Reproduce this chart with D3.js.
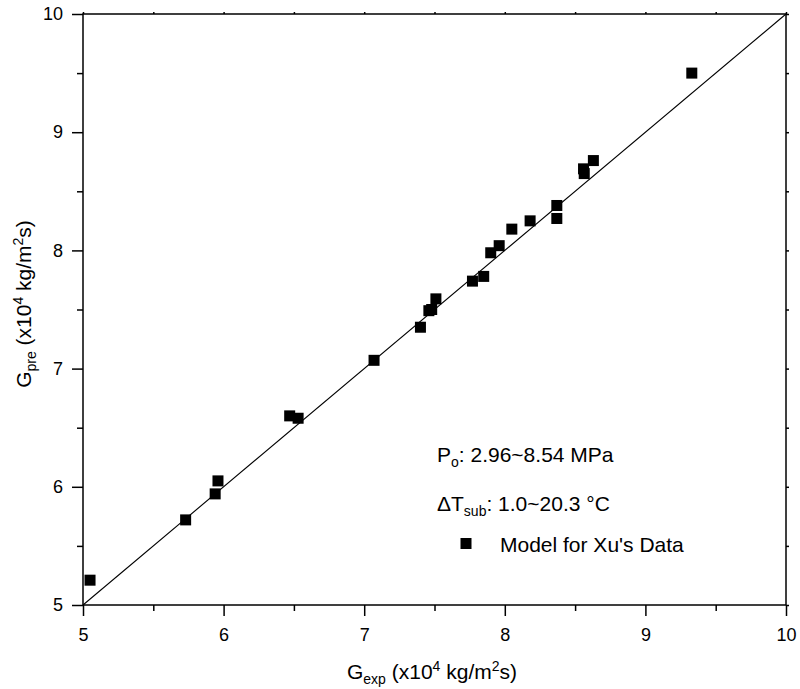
<!DOCTYPE html>
<html>
<head>
<meta charset="utf-8">
<script src="https://cdn.jsdelivr.net/npm/d3@7"></script>
<style>
  html, body { margin: 0; padding: 0; background: #fff; }
  svg { display: block; font-family: Arial, "Liberation Sans", Helvetica, sans-serif; }
</style>
</head>
<body>
<svg id="chart" width="800" height="689"></svg>
<script>
// Measured mass flux vs. predicted mass flux (x10^4 kg/m^2 s)
const gExp = [5.05, 5.73, 5.94, 5.96, 6.47, 6.53, 7.07, 7.40, 7.46, 7.48, 7.51, 7.77, 7.85, 7.90, 7.96, 8.05, 8.18, 8.37, 8.37, 8.56, 8.565, 8.63, 9.33];
const gPre = [5.21, 5.72, 5.94, 6.05, 6.60, 6.58, 7.07, 7.35, 7.49, 7.50, 7.59, 7.74, 7.78, 7.98, 8.04, 8.18, 8.25, 8.38, 8.27, 8.69, 8.65, 8.76, 9.50];
const majorTicks = [5, 6, 7, 8, 9, 10];
const minorTicks = [5.5, 6.5, 7.5, 8.5, 9.5];
const diagonal = [5, 10];

const svg = d3.select("#chart");
const plotL = 83, plotR = 786, plotT = 14, plotB = 605;

const x = d3.scaleLinear().domain([5, 10]).range([plotL, plotR]);
const y = d3.scaleLinear().domain([5, 10]).range([plotB, plotT]);

const points = gExp.map((v, i) => ({ gx: v, gy: gPre[i] }));

// 1:1 reference line
svg.append("line")
  .attr("x1", x(diagonal[0])).attr("y1", y(diagonal[0]))
  .attr("x2", x(diagonal[1])).attr("y2", y(diagonal[1]))
  .attr("stroke", "#000").attr("stroke-width", 1.1);

// Data markers
const sq = 11;
svg.append("g").selectAll("rect").data(points).join("rect")
  .attr("x", d => x(d.gx) - sq / 2)
  .attr("y", d => y(d.gy) - sq / 2)
  .attr("width", sq).attr("height", sq)
  .attr("fill", "#000");

// Frame
svg.append("rect")
  .attr("x", plotL).attr("y", plotT)
  .attr("width", plotR - plotL).attr("height", plotB - plotT)
  .attr("fill", "none").attr("stroke", "#000").attr("stroke-width", 1.5);

const labelFont = "Arial, 'Liberation Sans', sans-serif";

// Bottom axis
const xAxis = d3.axisBottom(x).tickValues(majorTicks).tickSize(11).tickPadding(12).tickFormat(d3.format("d"));
const gx = svg.append("g").attr("transform", `translate(0,${plotB})`).call(xAxis);
gx.select(".domain").remove();
gx.selectAll(".tick line").attr("stroke-width", 1.5);
gx.selectAll(".tick text").attr("font-size", 18).attr("fill", "#000").attr("font-family", labelFont);
svg.append("g").attr("transform", `translate(0,${plotB})`)
  .call(d3.axisBottom(x).tickValues(minorTicks).tickSize(6).tickFormat(""))
  .call(g => g.select(".domain").remove())
  .selectAll(".tick line").attr("stroke-width", 1.5);

// Left axis
const yAxis = d3.axisLeft(y).tickValues(majorTicks).tickSize(11).tickPadding(9).tickFormat(d3.format("d"));
const gy = svg.append("g").attr("transform", `translate(${plotL},0)`).call(yAxis);
gy.select(".domain").remove();
gy.selectAll(".tick line").attr("stroke-width", 1.5);
gy.selectAll(".tick text").attr("font-size", 18).attr("fill", "#000").attr("font-family", labelFont);
svg.append("g").attr("transform", `translate(${plotL},0)`)
  .call(d3.axisLeft(y).tickValues(minorTicks).tickSize(6).tickFormat(""))
  .call(g => g.select(".domain").remove())
  .selectAll(".tick line").attr("stroke-width", 1.5);

// Top and right: small ticks, no labels
const allTicks = majorTicks.concat(minorTicks);
svg.append("g").attr("transform", `translate(0,${plotT})`)
  .call(d3.axisTop(x).tickValues(allTicks).tickSize(2).tickFormat(""))
  .call(g => g.select(".domain").remove())
  .selectAll(".tick line").attr("stroke-width", 1.5);
svg.append("g").attr("transform", `translate(${plotR},0)`)
  .call(d3.axisRight(y).tickValues(allTicks).tickSize(3).tickFormat(""))
  .call(g => g.select(".domain").remove())
  .selectAll(".tick line").attr("stroke-width", 1.5);

// Axis titles
function unitTitle(sel, sub) {
  sel.append("tspan").text("G");
  sel.append("tspan").attr("font-size", 14).attr("dy", 5).text(sub);
  sel.append("tspan").attr("dy", -5).text(" (x10");
  sel.append("tspan").attr("font-size", 14).attr("dy", -8).text("4");
  sel.append("tspan").attr("dy", 8).text(" kg/m");
  sel.append("tspan").attr("font-size", 14).attr("dy", -8).text("2");
  sel.append("tspan").attr("dy", 8).text("s)");
}
const xt = svg.append("text")
  .attr("x", 432).attr("y", 679)
  .attr("text-anchor", "middle").attr("font-size", 21).attr("fill", "#000");
unitTitle(xt, "exp");

const yt = svg.append("text")
  .attr("transform", "translate(31,304) rotate(-90)")
  .attr("text-anchor", "middle").attr("font-size", 21).attr("fill", "#000");
unitTitle(yt, "pre");

// Annotations
const a1 = svg.append("text").attr("x", 437).attr("y", 462).attr("font-size", 21).attr("fill", "#000");
a1.append("tspan").text("P");
a1.append("tspan").attr("font-size", 14).attr("dy", 5).text("o");
a1.append("tspan").attr("dy", -5).text(": 2.96~8.54 MPa");

const a2 = svg.append("text").attr("x", 437).attr("y", 511).attr("font-size", 21).attr("fill", "#000");
a2.append("tspan").text("\u0394T");
a2.append("tspan").attr("font-size", 14).attr("dy", 5).text("sub");
a2.append("tspan").attr("dy", -5).text(": 1.0~20.3 \u00B0C");

// Legend
svg.append("rect").attr("x", 466 - sq / 2).attr("y", 543.5 - sq / 2)
  .attr("width", sq).attr("height", sq).attr("fill", "#000");
svg.append("text").attr("x", 500).attr("y", 552).attr("font-size", 21).attr("fill", "#000")
  .text("Model for Xu's Data");
</script>
</body>
</html>
